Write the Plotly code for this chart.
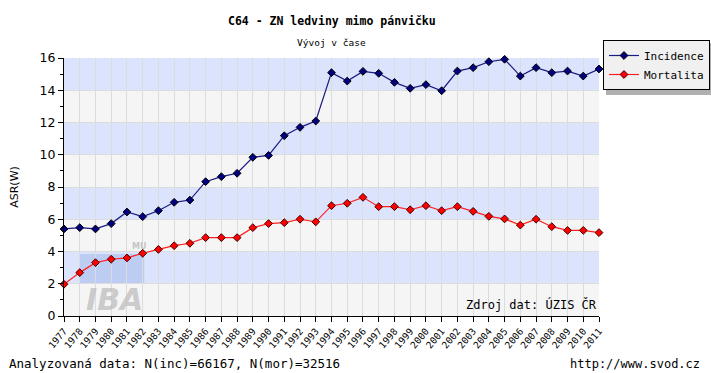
import plotly.graph_objects as go

years = list(range(1977, 2012))
incidence = [5.40, 5.48, 5.40, 5.73, 6.45, 6.16, 6.53, 7.05, 7.19, 8.33, 8.64, 8.85, 9.84, 9.96,
             11.18, 11.70, 12.09, 15.09, 14.57, 15.17, 15.05, 14.49, 14.12, 14.35, 13.97, 15.19,
             15.40, 15.77, 15.92, 14.88, 15.40, 15.09, 15.19, 14.88, 15.32]
mortalita = [1.97, 2.69, 3.31, 3.52, 3.60, 3.89, 4.13, 4.36, 4.51, 4.86, 4.86, 4.86, 5.48, 5.73,
             5.79, 6.00, 5.84, 6.84, 6.99, 7.36, 6.78, 6.78, 6.59, 6.84, 6.53, 6.78, 6.49, 6.18,
             6.02, 5.64, 6.00, 5.54, 5.31, 5.31, 5.17]
y_ticks = [0, 2, 4, 6, 8, 10, 12, 14, 16]

MONO = "DejaVu Sans Mono"

fig = go.Figure()
fig.add_trace(go.Scatter(
    x=years, y=incidence, name="Incidence", mode="lines+markers",
    line=dict(color="#1a1a80", width=1.2),
    marker=dict(symbol="diamond", size=6, color="#000080", line=dict(color="#000000", width=1)),
    cliponaxis=False))
fig.add_trace(go.Scatter(
    x=years, y=mortalita, name="Mortalita", mode="lines+markers",
    line=dict(color="#ff2020", width=1.2),
    marker=dict(symbol="diamond", size=6, color="#ff0000", line=dict(color="#400000", width=1)),
    cliponaxis=False))

shapes = []
for i in range(0, 16, 2):
    col = "#dce3fc" if (i // 2) % 2 == 1 else "#f5f5f5"
    shapes.append(dict(type="rect", xref="paper", yref="y", x0=0, x1=1, y0=i, y1=i + 2,
                       fillcolor=col, line=dict(width=0), layer="below"))
# watermark logo (IBA)
shapes.append(dict(type="rect", xref="paper", yref="y", x0=0.03, x1=0.15, y0=2.0, y1=3.85,
                   fillcolor="rgba(150,175,230,0.45)", line=dict(width=0), layer="below"))
# legend shadow
shapes.append(dict(type="rect", xref="paper", yref="paper",
                   x0=(606 - 64) / 535, x1=(711 - 64) / 535,
                   y0=(316 - 95) / 258, y1=(316 - 43) / 258,
                   fillcolor="#b0b0b0", line=dict(width=0), layer="above"))

annotations = [
    dict(text="<b>C64 - ZN ledviny mimo pánvičku</b>", xref="paper", yref="paper",
         x=0.5, y=(316 - 21) / 258, xanchor="center", yanchor="middle", showarrow=False,
         font=dict(family=MONO, size=11.5, color="#000")),
    dict(text="Vývoj v čase", xref="paper", yref="paper",
         x=0.5, y=(316 - 43) / 258, xanchor="center", yanchor="middle", showarrow=False,
         font=dict(family=MONO, size=9.5, color="#000")),
    dict(text="Zdroj dat: ÚZIS ČR", xref="paper", yref="paper",
         x=1, y=(316 - 304) / 258, xanchor="right", yanchor="middle", showarrow=False,
         font=dict(family=MONO, size=12, color="#000")),
    dict(text="Analyzovaná data: N(inc)=66167, N(mor)=32516", xref="paper", yref="paper",
         x=(7 - 64) / 535, y=(316 - 364) / 258, xanchor="left", yanchor="middle", showarrow=False,
         font=dict(family=MONO, size=12.5, color="#000")),
    dict(text="http://www.svod.cz", xref="paper", yref="paper",
         x=(702 - 64) / 535, y=(316 - 364) / 258, xanchor="right", yanchor="middle", showarrow=False,
         font=dict(family=MONO, size=12, color="#000")),
    dict(text="<b><i>IBA</i></b>", xref="paper", yref="y", x=0.095, y=1.05,
         xanchor="center", yanchor="middle", showarrow=False,
         font=dict(family="DejaVu Sans", size=30, color="rgba(190,190,190,0.75)")),
    dict(text="<b>MU</b>", xref="paper", yref="y", x=0.14, y=4.3,
         xanchor="center", yanchor="middle", showarrow=False,
         font=dict(family="DejaVu Sans", size=8, color="rgba(190,190,190,0.9)")),
]

fig.update_layout(
    width=711, height=373,
    margin=dict(l=64, r=112, t=58, b=57, autoexpand=False),
    paper_bgcolor="#ffffff", plot_bgcolor="#f5f5f5",
    shapes=shapes, annotations=annotations,
    showlegend=True,
    legend=dict(x=(603 - 64) / 535, y=(316 - 40) / 258, xanchor="left", yanchor="top",
                bgcolor="#f0f0f0", bordercolor="#000000", borderwidth=1,
                font=dict(family=MONO, size=11, color="#000"),
                itemwidth=30, tracegroupgap=0),
    xaxis=dict(range=[1977, 2011], tickmode="array", tickvals=years,
               ticktext=[str(y) for y in years], tickangle=-50,
               tickfont=dict(family=MONO, size=9.5, color="#000"),
               showgrid=True, gridcolor="#dcdcdc", gridwidth=1,
               showline=True, linecolor="#000", linewidth=1,
               ticks="outside", ticklen=5, tickcolor="#000", zeroline=False,
               automargin=False, fixedrange=True),
    yaxis=dict(range=[0, 16], tickmode="array", tickvals=y_ticks,
               tickfont=dict(family="DejaVu Sans", size=12.5, color="#000"),
               showgrid=True, gridcolor="#dcdcdc", gridwidth=1,
               showline=True, linecolor="#000", linewidth=1,
               ticks="outside", ticklen=5, tickcolor="#000", zeroline=False,
               minor=dict(dtick=1, ticks="outside", ticklen=3, tickcolor="#000", showgrid=False),
               title=dict(text="ASR(W)", font=dict(family="DejaVu Sans", size=11, color="#000"), standoff=18),
               automargin=False, fixedrange=True),
)

fig.write_html("out.html", config={"displayModeBar": False, "staticPlot": True},
               post_script="document.body.style.margin='0';document.body.style.overflow='hidden';")
